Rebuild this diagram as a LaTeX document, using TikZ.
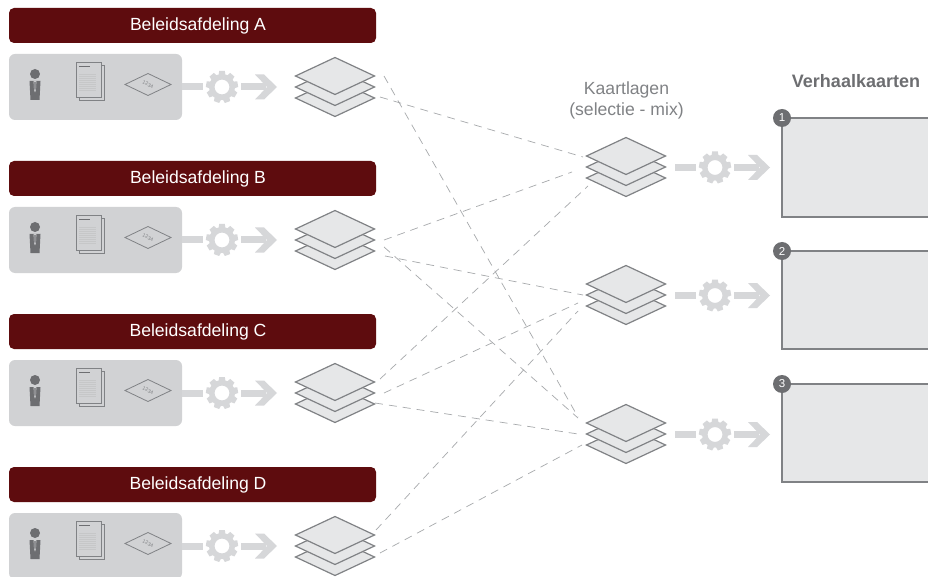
\documentclass[tikz,border=0pt]{standalone}
\usepackage{fontspec}
\setmainfont{Liberation Sans}
\definecolor{wine}{HTML}{5E0C0E}
\definecolor{panelgray}{HTML}{D1D2D4}
\definecolor{paper}{HTML}{E6E7E8}
\definecolor{edgegray}{HTML}{808285}
\definecolor{darkgray}{HTML}{6D6E71}
\definecolor{flowgray}{HTML}{D6D7D9}
\definecolor{dashgray}{HTML}{A7A9AC}
\tikzset{
  bannerbox/.style={fill=wine,rounded corners=5pt,minimum width=367pt,minimum height=35pt,inner sep=0pt,outer sep=0pt,text=white,font=\fontsize{17.6}{20}\selectfont},
  panelbox/.style={fill=panelgray,rounded corners=6pt,minimum width=173pt,minimum height=66pt,inner sep=0pt,outer sep=0pt},
  cardbox/.style={fill=paper,draw=edgegray,line width=1.1pt,minimum width=170pt,inner sep=0pt,outer sep=0pt},
  badge/.style={circle,fill=darkgray,minimum size=18pt,inner sep=0pt,text=white,font=\fontsize{11.5}{12}\selectfont},
  link/.style={draw=dashgray,line width=0.7pt,dash pattern=on 8pt off 6pt},
  layer/.style={fill=paper,draw=edgegray,line width=1.2pt,line join=miter},
  stackpic/.pic={
    \foreach \dy in {22,11,0}{
      \filldraw[layer] (-39.5,\dy) -- (0,\dy-18.5) -- (39.5,\dy) -- (0,\dy+18.5) -- cycle;
    }
  },
  flowpic/.pic={
    \fill[flowgray] (-40,-3.5) rectangle (-19,3.5);
    \draw[flowgray,line width=5.5pt] (0,0) circle (10.25);
    \foreach \a in {0,40,...,320}{
      \fill[flowgray,rotate=\a] (-2.8,-16) -- (2.8,-16) -- (3.6,-11) -- (-3.6,-11) -- cycle;
    }
    \fill[flowgray] (19,-3.5) rectangle (44,3.5);
    \fill[flowgray] (33,-12.5) -- (42,-12.5) -- (55,0) -- (42,12.5) -- (33,12.5) -- (45,0) -- cycle;
  },
  sourcepic/.pic={
    \fill[darkgray] (0,-13) circle (5);
    \fill[darkgray] (-5.5,-6) -- (5.5,-6) -- (4.5,13) -- (-4.5,13) -- cycle;
    \fill[panelgray] (-1.4,-6) -- (1.4,-6) -- (0.9,3) -- (0,5.5) -- (-0.9,3) -- cycle;
    \fill[darkgray] (-0.6,-5) -- (0.6,-5) -- (0.6,2) -- (0,3.5) -- (-0.6,2) -- cycle;
    \draw[edgegray,line width=0.7pt,fill=panelgray] (44,-22) rectangle (69,13);
    \draw[edgegray,line width=0.7pt,fill=panelgray] (41,-25) rectangle (66,10);
    \draw[darkgray,line width=0.8pt] (44,-21) -- (55,-21);
    \foreach \yy in {-13,-11,...,3}{
      \draw[edgegray!45,line width=0.6pt] (44,\yy) -- (61,\yy);
    }
    \draw[edgegray,line width=0.8pt] (90,-2.5) -- (113,-13.5) -- (136,-2.5) -- (113,8.5) -- cycle;
    \node[rotate=-25,text=edgegray,font=\fontsize{5}{6}\selectfont,inner sep=0pt] at (113,-2.5) {1234};
  },
}
\begin{document}
\begin{tikzpicture}[x=1pt,y=-1pt]
  \clip (0,0) rectangle (928,577);
  \fill[white] (0,0) rectangle (928,577);

  % banners
  \node[bannerbox] (bannerA) at (192.5,25.5) {\hspace{11pt}Beleidsafdeling A};
  \node[bannerbox] (bannerB) at (192.5,178.5) {\hspace{11pt}Beleidsafdeling B};
  \node[bannerbox] (bannerC) at (192.5,331.5) {\hspace{11pt}Beleidsafdeling C};
  \node[bannerbox] (bannerD) at (192.5,484.5) {\hspace{11pt}Beleidsafdeling D};

  % panels
  \node[panelbox] (panelA) at (95.5,87) {};
  \node[panelbox] (panelB) at (95.5,240) {};
  \node[panelbox] (panelC) at (95.5,393) {};
  \node[panelbox] (panelD) at (95.5,546) {};
  \foreach \cy in {87,240,393,546}{
    \pic at (35,\cy) {sourcepic};
    \pic at (222,\cy) {flowpic};
    \pic at (335,\cy-11) {stackpic};
  }

  % middle stacks
  \pic at (626,156) {stackpic};
  \pic at (626,284) {stackpic};
  \pic at (626,423) {stackpic};
  \pic at (715,167.5) {flowpic};
  \pic at (715,295.5) {flowpic};
  \pic at (715,434.5) {flowpic};

  % headings
  \node[text=edgegray,font=\fontsize{17.6}{21}\selectfont,align=center,inner sep=0pt] (mixlabel) at (626.5,100.5) {Kaartlagen\\(selectie - mix)};
  \node[text=darkgray,font=\fontsize{18}{20}\selectfont\bfseries,inner sep=0pt] (cardlabel) at (856,81) {Verhaalkaarten};

  % story cards
  \node[cardbox,anchor=north west,minimum height=99pt] (card1) at (782,118) {};
  \node[cardbox,anchor=north west,minimum height=98pt] (card2) at (782,251) {};
  \node[cardbox,anchor=north west,minimum height=98pt] (card3) at (782,384) {};
  \node[badge] (b1) at (card1.north west) {1};
  \node[badge] (b2) at (card2.north west) {2};
  \node[badge] (b3) at (card3.north west) {3};

  % connector ends
  \coordinate (a1) at (384,76);   \coordinate (a2) at (380,97);
  \coordinate (b1s) at (384,240); \coordinate (b2s) at (384,247); \coordinate (b3s) at (385,256);
  \coordinate (c1) at (380,379);  \coordinate (c2) at (384,393);  \coordinate (c3) at (375,403);
  \coordinate (d1) at (376,530);  \coordinate (d2) at (380,553);
  \coordinate (m1a) at (583,157); \coordinate (m1b) at (572,172); \coordinate (m1c) at (588,186);
  \coordinate (m2a) at (583,295); \coordinate (m2b) at (578,303); \coordinate (m2c) at (578,311);
  \coordinate (m3a) at (578,417); \coordinate (m3b) at (578,418); \coordinate (m3c) at (578,434); \coordinate (m3d) at (582,445);

  \draw[link] (a1) -- (m3a);
  \draw[link] (a2) -- (m1a);
  \draw[link] (b1s) -- (m1b);
  \draw[link] (b2s) -- (m3b);
  \draw[link] (b3s) -- (m2a);
  \draw[link] (c1) -- (m1c);
  \draw[link] (c2) -- (m2b);
  \draw[link] (c3) -- (m3c);
  \draw[link] (d1) -- (m2c);
  \draw[link] (d2) -- (m3d);
\end{tikzpicture}
\end{document}
